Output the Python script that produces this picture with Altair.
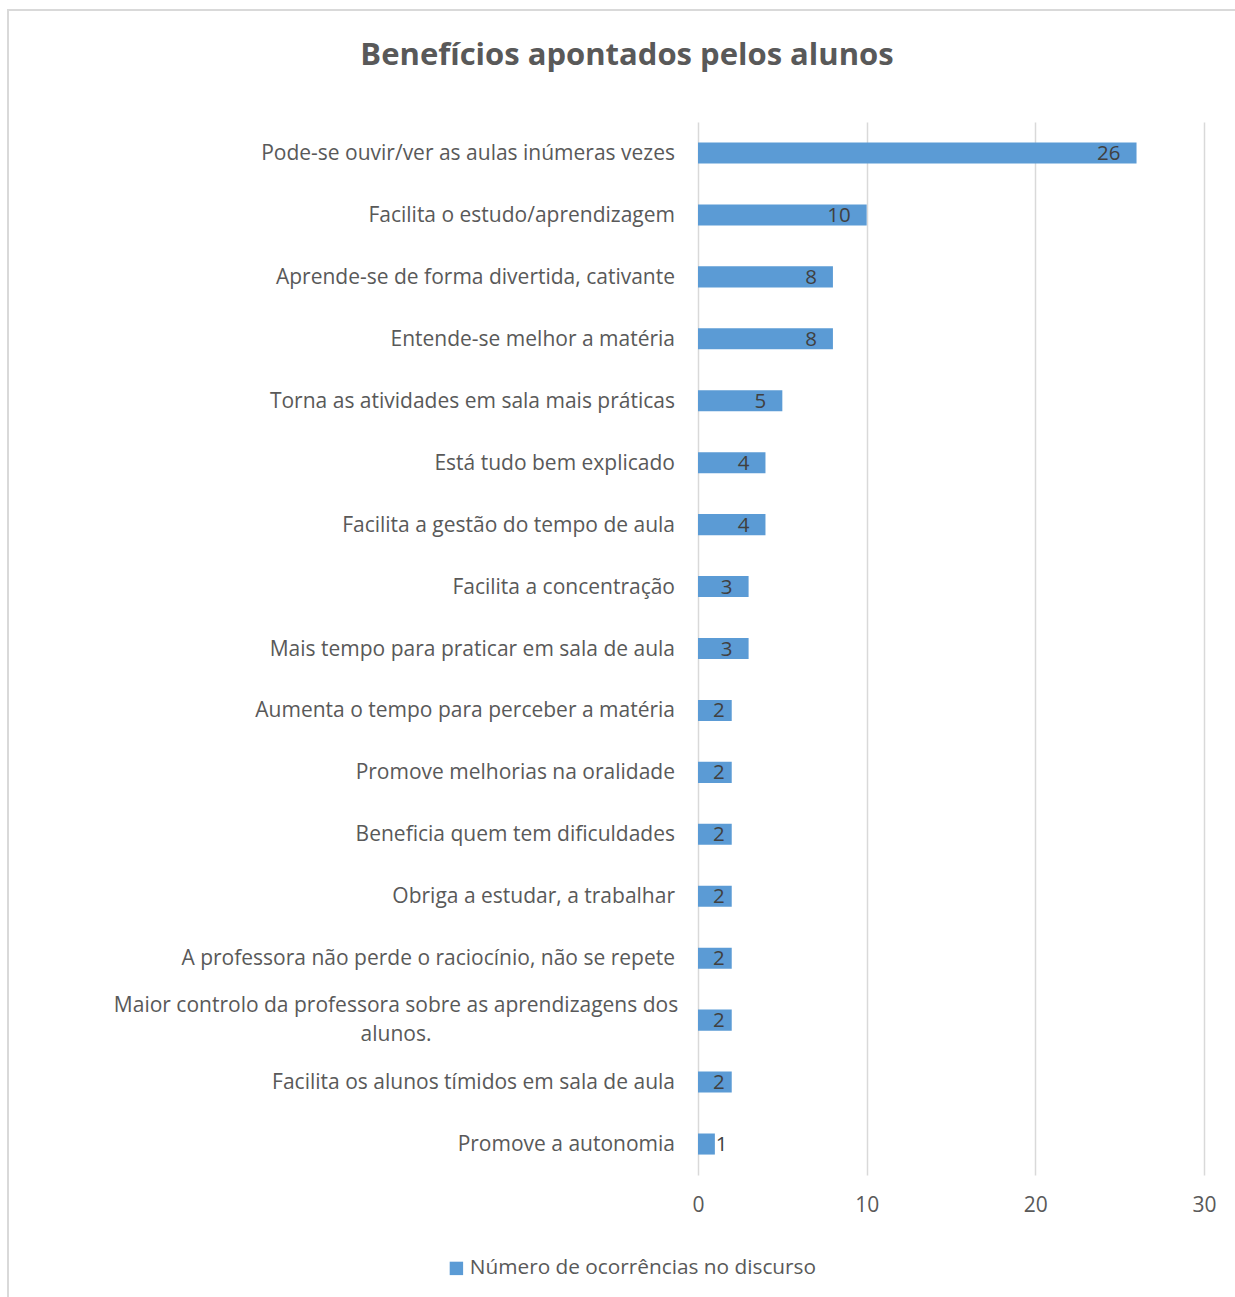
import altair as alt
import pandas as pd

categories = [
    "Pode-se ouvir/ver as aulas inúmeras vezes",
    "Facilita o estudo/aprendizagem",
    "Aprende-se de forma divertida, cativante",
    "Entende-se melhor a matéria",
    "Torna as atividades em sala mais práticas",
    "Está tudo bem explicado",
    "Facilita a gestão do tempo de aula",
    "Facilita a concentração",
    "Mais tempo para praticar em sala de aula",
    "Aumenta o tempo para perceber a matéria",
    "Promove melhorias na oralidade",
    "Beneficia quem tem dificuldades",
    "Obriga a estudar, a trabalhar",
    "A professora não perde o raciocínio, não se repete",
    "Maior controlo da professora sobre as aprendizagens dos alunos.",
    "Facilita os alunos tímidos em sala de aula",
    "Promove a autonomia",
]
values = [26, 10, 8, 8, 5, 4, 4, 3, 3, 2, 2, 2, 2, 2, 2, 2, 1]
series_name = "Número de ocorrências no discurso"
x_ticks = [0, 10, 20, 30]

df = pd.DataFrame({"cat": categories, "value": values, "series": series_name})

FONT = "Open Sans"
BLUE = "#5B9BD5"
GREY = "#595959"

base = alt.Chart(df)
y_enc = alt.Y("cat:N", sort=categories,
              scale=alt.Scale(paddingInner=0.66, paddingOuter=0.33),
              axis=alt.Axis(labels=False, ticks=False, domain=False, title=None))

bars = base.mark_bar(color=BLUE).encode(
    x=alt.X("value:Q", scale=alt.Scale(domain=[0, 30]),
            axis=alt.Axis(values=x_ticks, grid=True, gridColor="#D9D9D9", gridWidth=1.5,
                          domain=False, ticks=False, labelFontSize=21, labelColor=GREY,
                          labelFont=FONT, labelPadding=19, labelFlush=False, title=None)),
    y=y_enc,
    color=alt.Color("series:N", scale=alt.Scale(range=[BLUE]),
                    legend=alt.Legend(title=None, orient="none", legendX=-252, legendY=1136,
                                      symbolType="square", symbolSize=180, symbolStrokeWidth=0,
                                      labelFontSize=20.8, labelColor=GREY, labelFont=FONT,
                                      labelLimit=600, labelOffset=3, symbolOffset=0)),
)

txt_kw = dict(fontSize=20.5, color="#404040", font=FONT, baseline="middle", dy=1)
lab_big = base.transform_filter("datum.value >= 3").mark_text(align="right", dx=-16, **txt_kw).encode(
    x="value:Q", y=alt.Y("cat:N", sort=categories), text="value:Q")
lab_two = base.transform_filter("datum.value == 2").mark_text(align="right", dx=-7, **txt_kw).encode(
    x="value:Q", y=alt.Y("cat:N", sort=categories), text="value:Q")
lab_one = base.transform_filter("datum.value < 2").mark_text(align="left", dx=1, **txt_kw).encode(
    x="value:Q", y=alt.Y("cat:N", sort=categories), text="value:Q")

cat_kw = dict(fontSize=21, color=GREY, font=FONT, baseline="middle")
cat_single = base.transform_filter("indexof(datum.cat, 'dos alunos.') < 0").mark_text(
    align="right", dx=-23, dy=1, **cat_kw).encode(
    x=alt.datum(0), y=alt.Y("cat:N", sort=categories), text="cat:N")
cat_multi = base.transform_filter("indexof(datum.cat, 'dos alunos.') >= 0").transform_calculate(
    lab="replace(datum.cat, 'dos alunos.', 'dos\\nalunos.')").mark_text(
    align="center", dx=-302, dy=-14, lineBreak="\n", lineHeight=29, **cat_kw).encode(
    x=alt.datum(0), y=alt.Y("cat:N", sort=categories), text="lab:N")

border = alt.Chart(alt.Data(values=[{"a": 1}])).mark_rect(
    fill=None, stroke="#D9D9D9", strokeWidth=2, clip=False).encode(
    x=alt.value(-690), x2=alt.value(560), y=alt.value(-112), y2=alt.value(1200))

chart = alt.layer(border, bars, lab_big, lab_two, lab_one, cat_single, cat_multi).properties(
    width=506, height=1053,
    title=alt.TitleParams("Benefícios apontados pelos alunos", fontSize=31, font=FONT,
                          fontWeight="bold", color=GREY, anchor="middle", dx=-324,
                          offset=0, dy=63),
    padding={"left": 698, "top": 122, "right": 31, "bottom": 122},
    autosize=alt.AutoSizeParams(type="none"),
).configure_view(stroke=None)

chart.save("out.html", embed_options={"renderer": "svg", "actions": False})
